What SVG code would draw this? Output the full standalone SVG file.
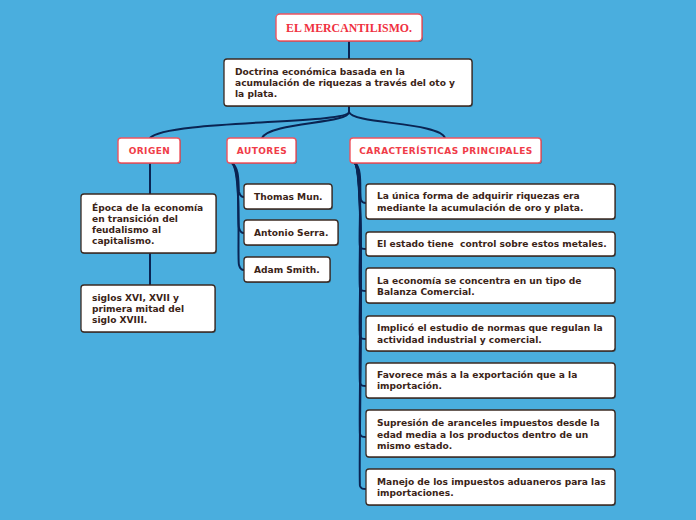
<svg xmlns="http://www.w3.org/2000/svg" width="696" height="520" viewBox="0 0 696 520">
<defs>
<style>
.bg{fill:#4aaede}
.box{fill:#fff;stroke:#3b2a22;stroke-width:1.3}
.rbox{fill:#fff;stroke:#ef5560;stroke-width:1.4}
.sh{fill:#2c3a48;opacity:0.55}
.t{font-family:"DejaVu Sans",Verdana,sans-serif;font-weight:bold;font-size:9.1px;fill:#3b2417}
.r{font-family:"DejaVu Sans",Verdana,sans-serif;font-weight:bold;font-size:9px;letter-spacing:0.45px;fill:#f03c48;text-anchor:middle}
.title{font-family:"Liberation Serif","Times New Roman",serif;font-weight:bold;font-size:11.8px;fill:#f03040;text-anchor:middle}
.c{fill:none;stroke:#0a2452;stroke-width:2;stroke-linecap:round}
</style>
</defs>
<rect class="bg" width="696" height="520"/>
<g id="connectors">
<path class="c" d="M349,41 V59"/>
<path class="c" d="M349,106 V112 C349,124 165,120 150,138"/>
<path class="c" d="M349,106 V112 C349,124 270,122 262,138"/>
<path class="c" d="M349,106 V112 C352,124 440,122 445,138"/>
<path class="c" d="M150,163 V194"/>
<path class="c" d="M150,253 V285"/>
<path class="c" d="M232,163 C240,168 238,186 239,192 C240,196 242,197 244,197"/>
<path class="c" d="M232,163 C241,170 237,222 239,228 C240,232 242,233 244,233"/>
<path class="c" d="M232,163 C242,172 237,260 239,265 C240,269 242,270 244,270"/>
<path class="c" d="M355,163 C363,168 359,195 361,200 C362,203 364,203 366,203"/>
<path class="c" d="M355,163 C364,170 358,240 360,246 C361,249 363,249 366,249"/>
<path class="c" d="M355,163 C364,172 358,280 360,288 C361,291 363,291 366,291"/>
<path class="c" d="M355,163 C365,174 358,328 360,336 C361,339 363,339 366,339"/>
<path class="c" d="M355,163 C365,176 358,376 360,383 C361,386 363,386 366,386"/>
<path class="c" d="M355,163 C366,178 358,426 360,434 C361,437 363,437 366,437"/>
<path class="c" d="M355,163 C366,180 358,478 360,486 C361,489 363,489 366,489"/>
</g>
<g id="title">
<rect class="sh" x="277" y="15" width="146" height="27" rx="4"/>
<rect class="rbox" x="276" y="14" width="146" height="27" rx="4"/>
<text class="title" x="349" y="31.5">EL MERCANTILISMO.</text>
</g>
<g id="doctrina">
<rect class="sh" x="225" y="60" width="248" height="47" rx="3"/>
<rect class="box" x="224" y="59" width="248" height="47" rx="3"/>
<text class="t" x="235" y="75">Doctrina económica basada en la</text>
<text class="t" x="235" y="86">acumulación de riquezas a través del oto y</text>
<text class="t" x="235" y="97">la plata.</text>
</g>
<g id="origen">
<rect class="sh" x="119" y="139" width="62" height="25" rx="3"/>
<rect class="rbox" x="118" y="138" width="62" height="25" rx="3"/>
<text class="r" x="149.5" y="154">ORIGEN</text>
</g>
<g id="autores">
<rect class="sh" x="228" y="139" width="69" height="25" rx="3"/>
<rect class="rbox" x="227" y="138" width="69" height="25" rx="3"/>
<text class="r" x="262" y="154">AUTORES</text>
</g>
<g id="caracteristicas">
<rect class="sh" x="351" y="139" width="191" height="25" rx="3"/>
<rect class="rbox" x="350" y="138" width="191" height="25" rx="3"/>
<text class="r" x="446" y="154">CARACTERÍSTICAS PRINCIPALES</text>
</g>
<g id="epoca">
<rect class="sh" x="82" y="195" width="135" height="59" rx="3"/>
<rect class="box" x="81" y="194" width="135" height="59" rx="3"/>
<text class="t" x="92" y="211">Época de la economía</text>
<text class="t" x="92" y="222">en transición del</text>
<text class="t" x="92" y="233">feudalismo al</text>
<text class="t" x="92" y="244">capitalismo.</text>
</g>
<g id="siglos">
<rect class="sh" x="82" y="286" width="134" height="47" rx="3"/>
<rect class="box" x="81" y="285" width="134" height="47" rx="3"/>
<text class="t" x="92" y="301">siglos XVI, XVII y</text>
<text class="t" x="92" y="312">primera mitad del</text>
<text class="t" x="92" y="323">siglo XVIII.</text>
</g>
<g id="thomas">
<rect class="sh" x="245" y="185" width="88" height="25" rx="3"/>
<rect class="box" x="244" y="184" width="88" height="25" rx="3"/>
<text class="t" x="254" y="200">Thomas Mun.</text>
</g>
<g id="antonio">
<rect class="sh" x="245" y="221" width="94" height="25" rx="3"/>
<rect class="box" x="244" y="220" width="94" height="25" rx="3"/>
<text class="t" x="254" y="236">Antonio Serra.</text>
</g>
<g id="adam">
<rect class="sh" x="245" y="258" width="86" height="25" rx="3"/>
<rect class="box" x="244" y="257" width="86" height="25" rx="3"/>
<text class="t" x="254" y="273">Adam Smith.</text>
</g>
<g id="c1">
<rect class="sh" x="367" y="185" width="249" height="35" rx="3"/>
<rect class="box" x="366" y="184" width="249" height="35" rx="3"/>
<text class="t" x="377" y="199">La única forma de adquirir riquezas era</text>
<text class="t" x="377" y="211">mediante la acumulación de oro y plata.</text>
</g>
<g id="c2">
<rect class="sh" x="367" y="233" width="249" height="24" rx="3"/>
<rect class="box" x="366" y="232" width="249" height="24" rx="3"/>
<text class="t" x="377" y="247" xml:space="preserve">El estado tiene  control sobre estos metales.</text>
</g>
<g id="c3">
<rect class="sh" x="367" y="269" width="249" height="35" rx="3"/>
<rect class="box" x="366" y="268" width="249" height="35" rx="3"/>
<text class="t" x="377" y="284">La economía se concentra en un tipo de</text>
<text class="t" x="377" y="295">Balanza Comercial.</text>
</g>
<g id="c4">
<rect class="sh" x="367" y="317" width="249" height="35" rx="3"/>
<rect class="box" x="366" y="316" width="249" height="35" rx="3"/>
<text class="t" x="377" y="331">Implicó el estudio de normas que regulan la</text>
<text class="t" x="377" y="343">actividad industrial y comercial.</text>
</g>
<g id="c5">
<rect class="sh" x="367" y="364" width="249" height="35" rx="3"/>
<rect class="box" x="366" y="363" width="249" height="35" rx="3"/>
<text class="t" x="377" y="378">Favorece más a la exportación que a la</text>
<text class="t" x="377" y="389">importación.</text>
</g>
<g id="c6">
<rect class="sh" x="367" y="411" width="249" height="47" rx="3"/>
<rect class="box" x="366" y="410" width="249" height="47" rx="3"/>
<text class="t" x="377" y="426">Supresión de aranceles impuestos desde la</text>
<text class="t" x="377" y="438">edad media a los productos dentro de un</text>
<text class="t" x="377" y="449">mismo estado.</text>
</g>
<g id="c7">
<rect class="sh" x="367" y="470" width="249" height="36" rx="3"/>
<rect class="box" x="366" y="469" width="249" height="36" rx="3"/>
<text class="t" x="377" y="485">Manejo de los impuestos aduaneros para las</text>
<text class="t" x="377" y="496">importaciones.</text>
</g>
</svg>
